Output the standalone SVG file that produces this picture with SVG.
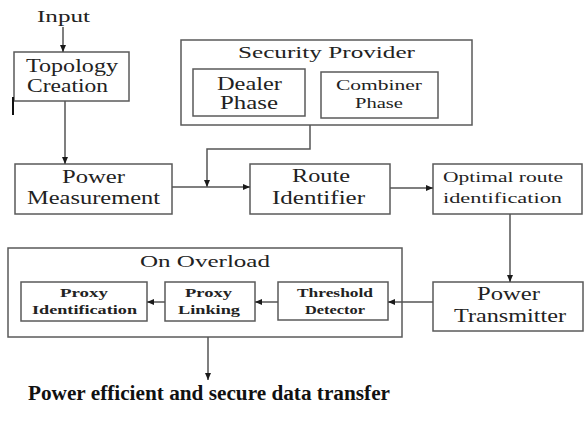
<svg xmlns="http://www.w3.org/2000/svg" width="586" height="421" viewBox="0 0 586 421">
  <defs>
    <marker id="arrow" markerUnits="userSpaceOnUse" markerWidth="7" markerHeight="6" refX="7" refY="3" orient="auto">
      <path d="M0,0 L7,3 L0,6 z" fill="#1a1a1a"/>
    </marker>
    <style>
      .box { fill: #ffffff; stroke: #5a5a5a; stroke-width: 1.5; }
      .frame { fill: none; stroke: #5a5a5a; stroke-width: 1.5; }
      .conn { fill: none; stroke: #555555; stroke-width: 1.5; marker-end: url(#arrow); }
      .lg { font-size: 18px; }
      .md { font-size: 16px; }
      .sm { font-size: 14px; }
      .bd { font-size: 13px; font-weight: bold; }
      .title { font-size: 20px; font-weight: bold; }
    </style>
  </defs>

  <rect width="586" height="421" fill="#ffffff"/>

  <g font-family="Liberation Serif" fill="#222222">
    <g id="input">
      <text class="md" x="37" y="22" textLength="53" lengthAdjust="spacingAndGlyphs">Input</text>
    </g>

    <g id="topology-creation">
      <rect class="box" x="14" y="52" width="115" height="49"/>
      <text class="lg" x="26" y="72" textLength="92" lengthAdjust="spacingAndGlyphs">Topology</text>
      <text class="lg" x="27" y="92" textLength="81" lengthAdjust="spacingAndGlyphs">Creation</text>
    </g>

    <g id="security-provider">
      <rect class="frame" x="181" y="40" width="291" height="85"/>
      <text class="md" x="238" y="58" textLength="177" lengthAdjust="spacingAndGlyphs">Security Provider</text>
    </g>

    <g id="dealer-phase">
      <rect class="box" x="193" y="69" width="112" height="47"/>
      <text class="lg" x="217" y="90" textLength="65" lengthAdjust="spacingAndGlyphs">Dealer</text>
      <text class="lg" x="220" y="109" textLength="58" lengthAdjust="spacingAndGlyphs">Phase</text>
    </g>

    <g id="combiner-phase">
      <rect class="box" x="321" y="72" width="117" height="46"/>
      <text class="sm" x="336" y="90" textLength="86" lengthAdjust="spacingAndGlyphs">Combiner</text>
      <text class="sm" x="355" y="108" textLength="48" lengthAdjust="spacingAndGlyphs">Phase</text>
    </g>

    <g id="power-measurement">
      <rect class="box" x="15" y="164" width="157" height="50"/>
      <text class="lg" x="62" y="183" textLength="63" lengthAdjust="spacingAndGlyphs">Power</text>
      <text class="lg" x="27" y="204" textLength="133" lengthAdjust="spacingAndGlyphs">Measurement</text>
    </g>

    <g id="route-identifier">
      <rect class="box" x="250" y="164" width="140" height="50"/>
      <text class="lg" x="292" y="182" textLength="58" lengthAdjust="spacingAndGlyphs">Route</text>
      <text class="lg" x="272" y="204" textLength="93" lengthAdjust="spacingAndGlyphs">Identifier</text>
    </g>

    <g id="optimal-route">
      <rect class="box" x="433" y="164" width="149" height="50"/>
      <text class="sm" x="443" y="182" textLength="120" lengthAdjust="spacingAndGlyphs">Optimal route</text>
      <text class="sm" x="443" y="203" textLength="119" lengthAdjust="spacingAndGlyphs">identification</text>
    </g>

    <g id="power-transmitter">
      <rect class="box" x="433" y="282" width="150" height="49"/>
      <text class="lg" x="477" y="300" textLength="63" lengthAdjust="spacingAndGlyphs">Power</text>
      <text class="lg" x="454" y="322" textLength="112" lengthAdjust="spacingAndGlyphs">Transmitter</text>
    </g>

    <g id="on-overload">
      <rect class="frame" x="8" y="248" width="394" height="89"/>
      <text class="md" x="140" y="267" textLength="130" lengthAdjust="spacingAndGlyphs">On Overload</text>
    </g>

    <g id="threshold-detector">
      <rect class="box" x="278" y="282" width="110" height="38"/>
      <text class="bd" x="297" y="297" textLength="76" lengthAdjust="spacingAndGlyphs">Threshold</text>
      <text class="bd" x="305" y="314" textLength="60" lengthAdjust="spacingAndGlyphs">Detector</text>
    </g>

    <g id="proxy-linking">
      <rect class="box" x="165" y="282" width="90" height="39"/>
      <text class="bd" x="185" y="297" textLength="47" lengthAdjust="spacingAndGlyphs">Proxy</text>
      <text class="bd" x="178" y="314" textLength="62" lengthAdjust="spacingAndGlyphs">Linking</text>
    </g>

    <g id="proxy-identification">
      <rect class="box" x="21" y="282" width="126" height="39"/>
      <text class="bd" x="60" y="297" textLength="48" lengthAdjust="spacingAndGlyphs">Proxy</text>
      <text class="bd" x="32" y="314" textLength="105" lengthAdjust="spacingAndGlyphs">Identification</text>
    </g>

    <g id="output">
      <text class="title" x="28" y="400" fill="#111111" textLength="362" lengthAdjust="spacingAndGlyphs">Power efficient and secure data transfer</text>
    </g>
  </g>

  <g id="connectors">
    <path class="conn" d="M63,27 V52"/>
    <path class="conn" d="M65,101 V164"/>
    <path class="conn" d="M310,125 V149 H207 V187"/>
    <path class="conn" d="M172,187 H250"/>
    <path class="conn" d="M390,188 H433"/>
    <path class="conn" d="M510,214 V282"/>
    <path class="conn" d="M433,302 H388"/>
    <path class="conn" d="M278,302 H255"/>
    <path class="conn" d="M165,302 H147"/>
    <path class="conn" d="M208,337 V380"/>
    <path d="M13,97 V115" stroke="#111111" stroke-width="2" fill="none"/>
  </g>
</svg>
